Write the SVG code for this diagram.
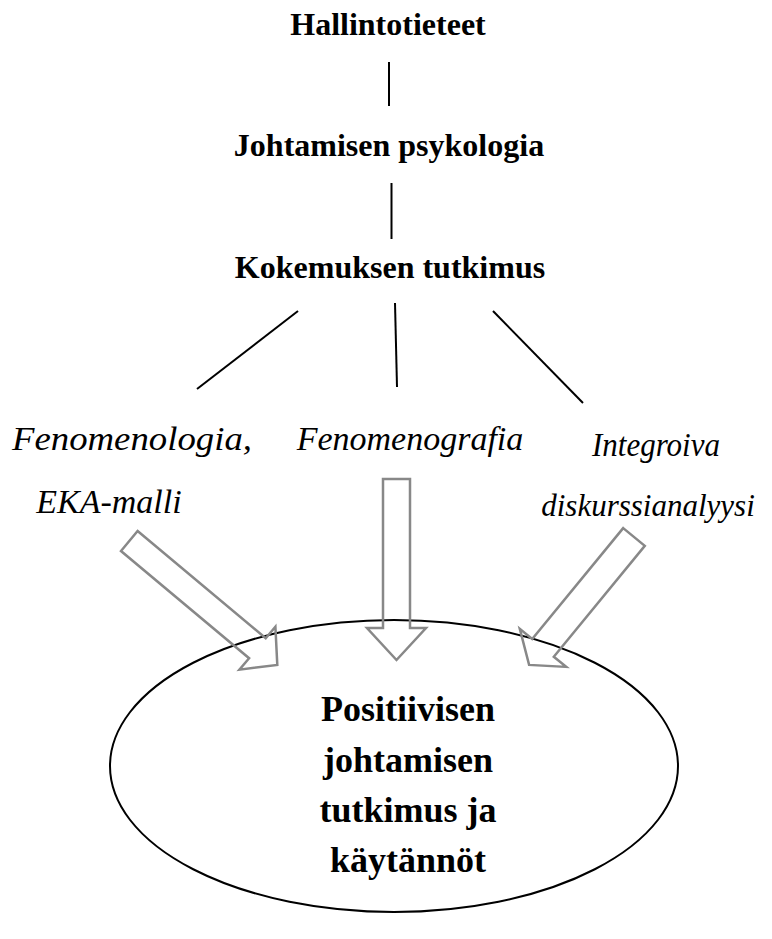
<svg xmlns="http://www.w3.org/2000/svg" width="772" height="939" viewBox="0 0 772 939">
<style>
.b{font-family:"Liberation Serif","Times New Roman",serif;font-weight:bold;font-size:32px;fill:#000;text-anchor:middle}
.i{font-family:"Liberation Serif","Times New Roman",serif;font-style:italic;font-size:34px;fill:#000;text-anchor:middle}
.e{font-family:"Liberation Serif","Times New Roman",serif;font-weight:bold;font-size:36px;fill:#000;text-anchor:middle}
.ln{stroke:#000;stroke-width:2;fill:none}
.ar{stroke:#888;stroke-width:2.5;fill:none;stroke-linejoin:miter}
</style>
<rect width="772" height="939" fill="#fff"/>
<g id="connectors">
<line class="ln" x1="389" y1="62" x2="389" y2="106"/>
<line class="ln" x1="391.5" y1="183" x2="391.5" y2="239"/>
<line class="ln" x1="298" y1="311" x2="197" y2="389"/>
<line class="ln" x1="395" y1="303" x2="397" y2="387"/>
<line class="ln" x1="493" y1="311" x2="583" y2="403"/>
</g>
<g id="n-hallinto"><text class="b" x="388" y="35">Hallintotieteet</text></g>
<g id="n-psykologia"><text class="b" x="389" y="156">Johtamisen psykologia</text></g>
<g id="n-kokemus"><text class="b" x="390" y="278">Kokemuksen tutkimus</text></g>
<g id="n-fenomenologia"><text class="i" x="132" y="450" textLength="240" lengthAdjust="spacingAndGlyphs">Fenomenologia,</text><text class="i" x="109" y="513">EKA-malli</text></g>
<g id="n-fenomenografia"><text class="i" x="410" y="450">Fenomenografia</text></g>
<g id="n-diskurssi"><text class="i" x="656" y="456" textLength="128" lengthAdjust="spacingAndGlyphs">Integroiva</text><text class="i" x="648" y="516" style="font-size:31px">diskurssianalyysi</text></g>
<g id="n-positiivinen">
<ellipse cx="394" cy="766" rx="284" ry="146" fill="none" stroke="#000" stroke-width="2"/>
<text class="e" x="408" y="721">Positiivisen</text>
<text class="e" x="408" y="772">johtamisen</text>
<text class="e" x="408" y="822">tutkimus ja</text>
<text class="e" x="408" y="872">käytännöt</text>
</g>
<g id="arrows">
<polygon class="ar" points="137.6,531 265.7,638.2 275.4,626.7 277.3,664.9 239.4,669.7 249.1,658.2 121,551"/>
<polygon class="ar" points="383,479 410,479 410,628 426,628 396.5,660 367,628 383,628"/>
<polygon class="ar" points="623.2,528.1 644.8,545.9 553.8,656.8 566.2,666.9 529.1,664.9 519.8,628.9 532.2,639"/>
</g>
</svg>
